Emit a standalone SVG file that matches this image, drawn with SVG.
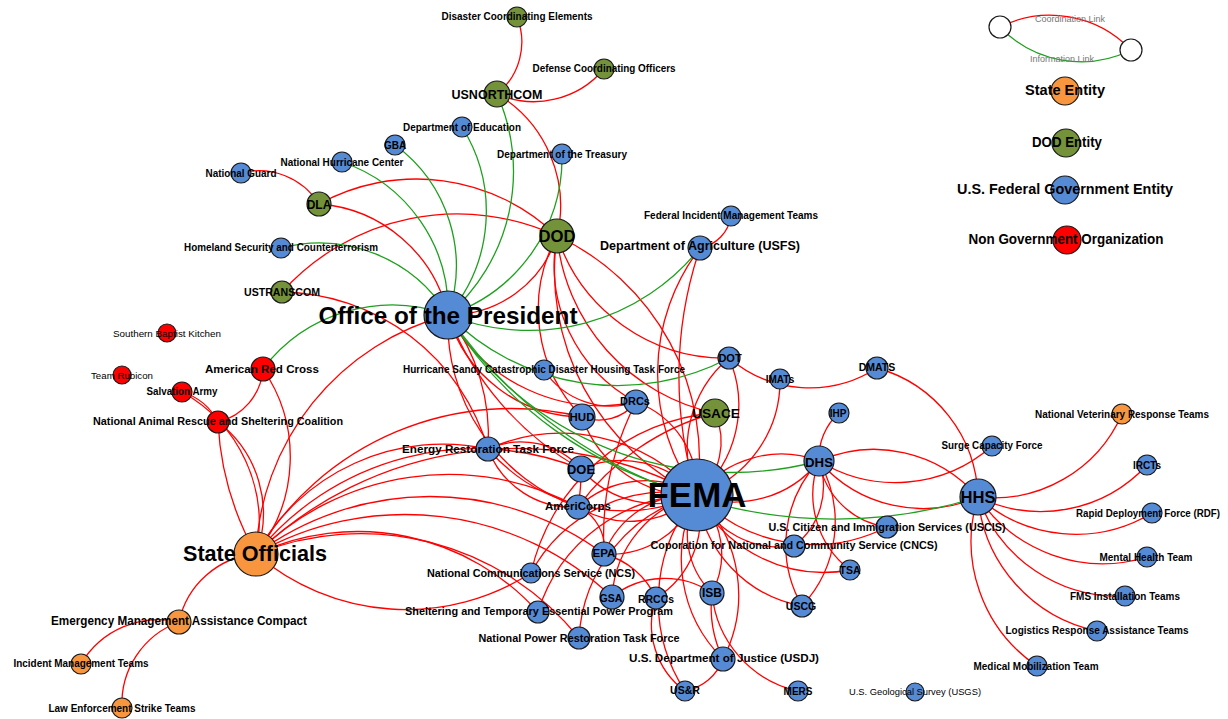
<svg xmlns="http://www.w3.org/2000/svg" width="1228" height="719" viewBox="0 0 1228 719">
<style>
.e path{fill:none;stroke-width:1.3}
.r{stroke:#ff0000}
.g{stroke:#1ea01e}
circle{stroke:#1a1a1a;stroke-width:1.2}
.b{fill:#558ad5}.v{fill:#73923a}.o{fill:#f7963f}.d{fill:#ff0000}.w{fill:#ffffff}
text{font-family:"Liberation Sans",Arial,Helvetica,sans-serif;font-weight:bold;fill:#000;text-anchor:middle;dominant-baseline:central}
.l{font-weight:normal}
.lg{font-weight:normal;fill:#777;font-size:9px}
</style>
<rect width="1228" height="719" fill="#fff"/>
<g id="connectors" class="e">
<g class="r">
<path d="M517 17 A67 67 0 0 1 497 94"/>
<path d="M497 94 A92 92 0 0 0 604 69"/>
<path d="M497 94 A130 130 0 0 1 557 236"/>
<path d="M241 173 A71 71 0 0 1 319 204"/>
<path d="M319 204 A202 202 0 0 1 557 236"/>
<path d="M319 204 A143 143 0 0 1 448 315"/>
<path d="M282 292 A236 236 0 0 1 557 236"/>
<path d="M282 292 A218 218 0 0 1 488 449"/>
<path d="M557 236 A113 113 0 0 1 448 315"/>
<path d="M448 315 A258 258 0 0 0 256 554"/>
<path d="M263 369 A155 155 0 0 1 256 554"/>
<path d="M263 369 A59 59 0 0 1 218 422"/>
<path d="M182 392 A60 60 0 0 1 218 422"/>
<path d="M218 422 A115 115 0 0 1 256 554"/>
<path d="M256 554 A300 300 0 0 1 218 422"/>
<path d="M182 392 A150 150 0 0 1 256 554"/>
<path d="M256 554 A86 86 0 0 0 179 622"/>
<path d="M179 622 A90 90 0 0 0 81 664"/>
<path d="M179 622 A87 87 0 0 0 122 708"/>
<path d="M256 554 A297 297 0 0 1 582 417"/>
<path d="M256 554 A214 214 0 0 1 488 449"/>
<path d="M256 554 A282 282 0 0 1 581 469"/>
<path d="M256 554 A273 273 0 0 1 578 507"/>
<path d="M256 554 A374 374 0 0 1 697 495"/>
<path d="M256 554 A292 292 0 0 1 604 554"/>
<path d="M256 554 A231 231 0 0 0 531 573"/>
<path d="M256 554 A242 242 0 0 1 538 612"/>
<path d="M256 554 A280 280 0 0 1 579 638"/>
<path d="M256 554 A301 301 0 0 1 612 597"/>
<path d="M557 236 A247 247 0 0 0 697 495"/>
<path d="M557 236 A247 247 0 0 1 697 495"/>
<path d="M557 236 A155 155 0 0 0 636 402"/>
<path d="M557 236 A200 200 0 0 0 715 413"/>
<path d="M557 236 A177 177 0 0 0 729 358"/>
<path d="M557 236 A154 154 0 0 0 582 417"/>
<path d="M700 248 A207 207 0 0 0 697 495"/>
<path d="M700 248 A400 400 0 0 0 697 495"/>
<path d="M731 216 A38 38 0 0 1 700 248"/>
<path d="M729 358 A118 118 0 0 1 697 495"/>
<path d="M729 358 A118 118 0 0 0 697 495"/>
<path d="M780 379 A120 120 0 0 1 697 495"/>
<path d="M729 358 A124 124 0 0 0 877 368"/>
<path d="M715 413 A71 71 0 0 1 697 495"/>
<path d="M715 413 A205 205 0 0 0 531 573"/>
<path d="M636 402 A93 93 0 0 1 697 495"/>
<path d="M636 402 A47 47 0 0 1 582 417"/>
<path d="M448 315 A174 174 0 0 0 636 402"/>
<path d="M448 315 A141 141 0 0 0 582 417"/>
<path d="M448 315 A200 200 0 0 1 488 449"/>
<path d="M448 315 A300 300 0 0 0 581 469"/>
<path d="M448 315 A195 195 0 0 0 578 507"/>
<path d="M582 417 A117 117 0 0 0 697 495"/>
<path d="M488 449 A180 180 0 0 1 697 495"/>
<path d="M488 449 A180 180 0 0 0 697 495"/>
<path d="M488 449 A80 80 0 0 1 581 469"/>
<path d="M488 449 A90 90 0 0 0 578 507"/>
<path d="M581 469 A100 100 0 0 1 697 495"/>
<path d="M581 469 A100 100 0 0 0 697 495"/>
<path d="M581 469 A200 200 0 0 1 578 507"/>
<path d="M578 507 A100 100 0 0 1 697 495"/>
<path d="M578 507 A100 100 0 0 0 697 495"/>
<path d="M578 507 A45 45 0 0 1 604 554"/>
<path d="M578 507 A250 250 0 0 1 715 413"/>
<path d="M604 554 A93 93 0 0 1 697 495"/>
<path d="M604 554 A93 93 0 0 0 697 495"/>
<path d="M604 554 A300 300 0 0 1 636 402"/>
<path d="M531 573 A154 154 0 0 1 697 495"/>
<path d="M612 597 A112 112 0 0 1 697 495"/>
<path d="M612 597 A84 84 0 0 1 712 593"/>
<path d="M656 598 A93 93 0 0 0 697 495"/>
<path d="M604 554 A80 80 0 0 1 656 598"/>
<path d="M656 598 A82 82 0 0 0 685 691"/>
<path d="M712 593 A83 83 0 0 1 697 495"/>
<path d="M712 593 A83 83 0 0 0 697 495"/>
<path d="M712 593 A120 120 0 0 0 723 659"/>
<path d="M712 593 A110 110 0 0 0 798 691"/>
<path d="M723 659 A140 140 0 0 1 697 495"/>
<path d="M697 495 A140 140 0 0 1 723 659"/>
<path d="M723 659 A50 50 0 0 1 685 691"/>
<path d="M685 691 A165 165 0 0 1 697 495"/>
<path d="M802 606 A123 123 0 0 1 819 461"/>
<path d="M802 606 A123 123 0 0 0 819 461"/>
<path d="M697 495 A129 129 0 0 0 802 606"/>
<path d="M850 570 A95 95 0 0 1 819 461"/>
<path d="M850 570 A143 143 0 0 1 697 495"/>
<path d="M794 546 A92 92 0 0 1 697 495"/>
<path d="M794 546 A75 75 0 0 0 819 461"/>
<path d="M887 527 A80 80 0 0 1 819 461"/>
<path d="M887 527 A162 162 0 0 1 697 495"/>
<path d="M819 461 A107 107 0 0 1 697 495"/>
<path d="M819 461 A107 107 0 0 0 697 495"/>
<path d="M819 461 A137 137 0 0 1 978 497"/>
<path d="M819 461 A137 137 0 0 0 978 497"/>
<path d="M819 461 A60 60 0 0 1 839 413"/>
<path d="M819 461 A146 146 0 0 0 992 446"/>
<path d="M978 497 A140 140 0 0 0 1122 414"/>
<path d="M978 497 A144 144 0 0 0 1147 465"/>
<path d="M978 497 A147 147 0 0 0 1152 513"/>
<path d="M978 497 A150 150 0 0 0 1147 557"/>
<path d="M978 497 A149 149 0 0 0 1125 596"/>
<path d="M978 497 A150 150 0 0 0 1097 631"/>
<path d="M978 497 A150 150 0 0 0 1037 666"/>
<path d="M978 497 A138 138 0 0 0 877 368"/>
<path d="M579 638 A156 156 0 0 1 697 495"/>
<path d="M538 612 A166 166 0 0 1 697 495"/>
<path d="M544 370 A80 80 0 0 0 636 402"/>
<path d="M1000 27 A112 112 0 0 1 1131 50"/>
</g>
<g class="g">
<path d="M497 94 A190 190 0 0 1 448 315"/>
<path d="M462 127 A159 159 0 0 1 448 315"/>
<path d="M395 145 A150 150 0 0 1 448 315"/>
<path d="M342 162 A156 156 0 0 1 448 315"/>
<path d="M281 248 A151 151 0 0 1 448 315"/>
<path d="M562 154 A166 166 0 0 1 448 315"/>
<path d="M448 315 A219 219 0 0 0 700 248"/>
<path d="M263 369 A162 162 0 0 1 448 315"/>
<path d="M448 315 A239 239 0 0 0 729 358"/>
<path d="M448 315 A400 400 0 0 0 697 495"/>
<path d="M448 315 A335 335 0 0 0 819 461"/>
<path d="M448 315 A470 470 0 0 0 978 497"/>
<path d="M1131 50 A112 112 0 0 1 1000 27"/>
</g>
</g>
<g id="legend">
<circle class="w" cx="1000" cy="27" r="11"/>
<circle class="w" cx="1131" cy="50" r="11"/>
<text class="lg" x="1070" y="19">Coordination Link</text>
<text class="lg" x="1062" y="59">Information Link</text>
<circle class="o" cx="1065" cy="91" r="14"/>
<text x="1065" y="90" font-size="14.5" textLength="80" lengthAdjust="spacingAndGlyphs">State Entity</text>
<circle class="v" cx="1066" cy="143" r="14"/>
<text x="1067" y="142" font-size="14.5" textLength="70" lengthAdjust="spacingAndGlyphs">DOD Entity</text>
<circle class="b" cx="1065" cy="190" r="14"/>
<text x="1065" y="189" font-size="14.5" textLength="216" lengthAdjust="spacingAndGlyphs">U.S. Federal Government Entity</text>
<circle class="d" cx="1067" cy="240" r="14"/>
<text x="1066" y="239" font-size="14.5" textLength="195" lengthAdjust="spacingAndGlyphs">Non Government Organization</text>
</g>
<g id="n-dce"><circle class="v" cx="517" cy="17" r="10"/><text x="517" y="16" font-size="10" textLength="151" lengthAdjust="spacingAndGlyphs">Disaster Coordinating Elements</text></g>
<g id="n-dco"><circle class="v" cx="604" cy="69" r="10"/><text x="604" y="68" font-size="10" textLength="143" lengthAdjust="spacingAndGlyphs">Defense Coordinating Officers</text></g>
<g id="n-usnorthcom"><circle class="v" cx="497" cy="94" r="13"/><text x="497" y="94" font-size="13" textLength="91" lengthAdjust="spacingAndGlyphs">USNORTHCOM</text></g>
<g id="n-edu"><circle class="b" cx="462" cy="127" r="10"/><text x="462" y="127" font-size="10" textLength="118" lengthAdjust="spacingAndGlyphs">Department of Education</text></g>
<g id="n-treasury"><circle class="b" cx="562" cy="154" r="10"/><text x="562" y="154" font-size="10" textLength="130" lengthAdjust="spacingAndGlyphs">Department of the Treasury</text></g>
<g id="n-gba"><circle class="b" cx="395" cy="145" r="10"/><text x="395" y="145" font-size="10">GBA</text></g>
<g id="n-nhc"><circle class="b" cx="342" cy="162" r="10"/><text x="342" y="162" font-size="10" textLength="123" lengthAdjust="spacingAndGlyphs">National Hurricane Center</text></g>
<g id="n-ng"><circle class="b" cx="241" cy="173" r="10"/><text x="241" y="173" font-size="10" textLength="71" lengthAdjust="spacingAndGlyphs">National Guard</text></g>
<g id="n-dla"><circle class="v" cx="319" cy="204" r="12"/><text x="319" y="205" font-size="12">DLA</text></g>
<g id="n-fimt"><circle class="b" cx="731" cy="216" r="10"/><text x="731" y="215" font-size="10.5" textLength="174" lengthAdjust="spacingAndGlyphs">Federal Incident Management Teams</text></g>
<g id="n-dod"><circle class="v" cx="557" cy="236" r="17"/><text x="557" y="236" font-size="17" textLength="37" lengthAdjust="spacingAndGlyphs">DOD</text></g>
<g id="n-usfs"><circle class="b" cx="700" cy="248" r="12"/><text x="700" y="246" font-size="12.5" textLength="200" lengthAdjust="spacingAndGlyphs">Department of Agriculture (USFS)</text></g>
<g id="n-hsc"><circle class="b" cx="281" cy="248" r="10"/><text x="281" y="247" font-size="10" textLength="194" lengthAdjust="spacingAndGlyphs">Homeland Security and Counterterrorism</text></g>
<g id="n-ustranscom"><circle class="v" cx="282" cy="292" r="11"/><text x="282" y="292" font-size="10.5" textLength="76" lengthAdjust="spacingAndGlyphs">USTRANSCOM</text></g>
<g id="n-op"><circle class="b" cx="448" cy="315" r="24"/><text x="448" y="315" font-size="24" textLength="259" lengthAdjust="spacingAndGlyphs">Office of the President</text></g>
<g id="n-sbk"><circle class="d" cx="167" cy="333" r="9"/><text class="l" x="167" y="333" font-size="9.5" textLength="108" lengthAdjust="spacingAndGlyphs">Southern Baptist Kitchen</text></g>
<g id="n-arc"><circle class="d" cx="263" cy="369" r="12"/><text x="262" y="369" font-size="11.5" textLength="114" lengthAdjust="spacingAndGlyphs">American Red Cross</text></g>
<g id="n-tr"><circle class="d" cx="122" cy="375" r="9"/><text class="l" x="122" y="375" font-size="9.5" textLength="62" lengthAdjust="spacingAndGlyphs">Team Rubicon</text></g>
<g id="n-sa"><circle class="d" cx="182" cy="392" r="10"/><text x="182" y="391" font-size="10" textLength="71" lengthAdjust="spacingAndGlyphs">Salvation Army</text></g>
<g id="n-narsc"><circle class="d" cx="218" cy="422" r="11"/><text x="218" y="421" font-size="11" textLength="250" lengthAdjust="spacingAndGlyphs">National Animal Rescue and Sheltering Coalition</text></g>
<g id="n-hstf"><circle class="b" cx="544" cy="370" r="10"/><text x="544" y="369" font-size="10" textLength="282" lengthAdjust="spacingAndGlyphs">Hurricane Sandy Catastrophic Disaster Housing Task Force</text></g>
<g id="n-dot"><circle class="b" cx="729" cy="358" r="11"/><text x="730" y="358" font-size="11">DOT</text></g>
<g id="n-dmats"><circle class="b" cx="877" cy="368" r="11"/><text x="877" y="367" font-size="10.5">DMATS</text></g>
<g id="n-imats"><circle class="b" cx="780" cy="379" r="10"/><text x="780" y="379" font-size="10">IMATs</text></g>
<g id="n-drcs"><circle class="b" cx="636" cy="402" r="12"/><text x="635" y="401" font-size="11">DRCs</text></g>
<g id="n-usace"><circle class="v" cx="715" cy="413" r="14"/><text x="716" y="413" font-size="13.5" textLength="48" lengthAdjust="spacingAndGlyphs">USACE</text></g>
<g id="n-hud"><circle class="b" cx="582" cy="417" r="13"/><text x="582" y="417" font-size="11.5">HUD</text></g>
<g id="n-ihp"><circle class="b" cx="839" cy="413" r="10"/><text x="838" y="413" font-size="10">IHP</text></g>
<g id="n-nvrt"><circle class="o" cx="1122" cy="414" r="10"/><text x="1122" y="414" font-size="10" textLength="174" lengthAdjust="spacingAndGlyphs">National Veterinary Response Teams</text></g>
<g id="n-ertf"><circle class="b" cx="488" cy="449" r="12"/><text x="488" y="449" font-size="11.5" textLength="172" lengthAdjust="spacingAndGlyphs">Energy Restoration Task Force</text></g>
<g id="n-scf"><circle class="b" cx="992" cy="446" r="10"/><text x="992" y="445" font-size="10" textLength="101" lengthAdjust="spacingAndGlyphs">Surge Capacity Force</text></g>
<g id="n-doe"><circle class="b" cx="581" cy="469" r="13"/><text x="581" y="470" font-size="12.5" textLength="28" lengthAdjust="spacingAndGlyphs">DOE</text></g>
<g id="n-irct"><circle class="b" cx="1147" cy="465" r="10"/><text x="1147" y="465" font-size="10">IRCTs</text></g>
<g id="n-fema"><circle class="b" cx="697" cy="495" r="36"/><text x="697" y="494" font-size="35" textLength="99" lengthAdjust="spacingAndGlyphs">FEMA</text></g>
<g id="n-dhs"><circle class="b" cx="819" cy="461" r="15"/><text x="819" y="462" font-size="13.5" textLength="28" lengthAdjust="spacingAndGlyphs">DHS</text></g>
<g id="n-hhs"><circle class="b" cx="978" cy="497" r="18"/><text x="978" y="497" font-size="16.5" textLength="35" lengthAdjust="spacingAndGlyphs">HHS</text></g>
<g id="n-americorps"><circle class="b" cx="578" cy="507" r="12"/><text x="578" y="506" font-size="11.5" textLength="66" lengthAdjust="spacingAndGlyphs">AmeriCorps</text></g>
<g id="n-rdf"><circle class="b" cx="1152" cy="513" r="10"/><text x="1148" y="513" font-size="10" textLength="144" lengthAdjust="spacingAndGlyphs">Rapid Deployment Force (RDF)</text></g>
<g id="n-uscis"><circle class="b" cx="887" cy="527" r="11"/><text x="887" y="527" font-size="10.5" textLength="237" lengthAdjust="spacingAndGlyphs">U.S. Citizen and Immigration Services (USCIS)</text></g>
<g id="n-epa"><circle class="b" cx="604" cy="554" r="12"/><text x="604" y="553" font-size="11.5">EPA</text></g>
<g id="n-cncs"><circle class="b" cx="794" cy="546" r="11"/><text x="794" y="545" font-size="11" textLength="287" lengthAdjust="spacingAndGlyphs">Coporation for National and Community Service (CNCS)</text></g>
<g id="n-mht"><circle class="b" cx="1147" cy="557" r="10"/><text x="1146" y="557" font-size="10.5" textLength="93" lengthAdjust="spacingAndGlyphs">Mental Health Team</text></g>
<g id="n-tsa"><circle class="b" cx="850" cy="570" r="10"/><text x="850" y="570" font-size="10.5">TSA</text></g>
<g id="n-ncs"><circle class="b" cx="531" cy="573" r="10"/><text x="531" y="573" font-size="11" textLength="208" lengthAdjust="spacingAndGlyphs">National Communications Service (NCS)</text></g>
<g id="n-gsa"><circle class="b" cx="612" cy="597" r="12"/><text x="611" y="598" font-size="10.5">GSA</text></g>
<g id="n-rrcc"><circle class="b" cx="656" cy="598" r="11"/><text x="656" y="599" font-size="10.5" textLength="36" lengthAdjust="spacingAndGlyphs">RRCCs</text></g>
<g id="n-isb"><circle class="b" cx="712" cy="593" r="12"/><text x="712" y="593" font-size="12">ISB</text></g>
<g id="n-uscg"><circle class="b" cx="802" cy="606" r="11"/><text x="801" y="606" font-size="10.5">USCG</text></g>
<g id="n-fms"><circle class="b" cx="1125" cy="596" r="10"/><text x="1125" y="596" font-size="10" textLength="110" lengthAdjust="spacingAndGlyphs">FMS Installation Teams</text></g>
<g id="n-step"><circle class="b" cx="538" cy="612" r="11"/><text x="539" y="611" font-size="11" textLength="268" lengthAdjust="spacingAndGlyphs">Sheltering and Temporary Essential Power Program</text></g>
<g id="n-nprtf"><circle class="b" cx="579" cy="638" r="11"/><text x="579" y="638" font-size="11" textLength="201" lengthAdjust="spacingAndGlyphs">National Power Restoration Task Force</text></g>
<g id="n-lrat"><circle class="b" cx="1097" cy="631" r="10"/><text x="1097" y="630" font-size="10.5" textLength="183" lengthAdjust="spacingAndGlyphs">Logistics Response Assistance Teams</text></g>
<g id="n-usdj"><circle class="b" cx="723" cy="659" r="12"/><text x="724" y="658" font-size="11.5" textLength="190" lengthAdjust="spacingAndGlyphs">U.S. Department of Justice (USDJ)</text></g>
<g id="n-mmt"><circle class="b" cx="1037" cy="666" r="10"/><text x="1036" y="666" font-size="10" textLength="125" lengthAdjust="spacingAndGlyphs">Medical Mobilization Team</text></g>
<g id="n-usr"><circle class="b" cx="685" cy="691" r="10"/><text x="685" y="690" font-size="10.5">US&amp;R</text></g>
<g id="n-mers"><circle class="b" cx="798" cy="691" r="10"/><text x="798" y="691" font-size="10">MERS</text></g>
<g id="n-usgs"><circle class="b" cx="915" cy="692" r="9"/><text class="l" x="915" y="691" font-size="9.5" textLength="132" lengthAdjust="spacingAndGlyphs">U.S. Geological Survey (USGS)</text></g>
<g id="n-so"><circle class="o" cx="256" cy="554" r="22"/><text x="255" y="554" font-size="21.5" textLength="144" lengthAdjust="spacingAndGlyphs">State Officials</text></g>
<g id="n-emac"><circle class="o" cx="179" cy="622" r="12"/><text x="179" y="621" font-size="12" textLength="256" lengthAdjust="spacingAndGlyphs">Emergency Management Assistance Compact</text></g>
<g id="n-imt"><circle class="o" cx="81" cy="664" r="10"/><text x="81" y="663" font-size="10.5" textLength="135" lengthAdjust="spacingAndGlyphs">Incident Management Teams</text></g>
<g id="n-lest"><circle class="o" cx="122" cy="708" r="10"/><text x="122" y="708" font-size="10.5" textLength="147" lengthAdjust="spacingAndGlyphs">Law Enforcement Strike Teams</text></g>
</svg>
